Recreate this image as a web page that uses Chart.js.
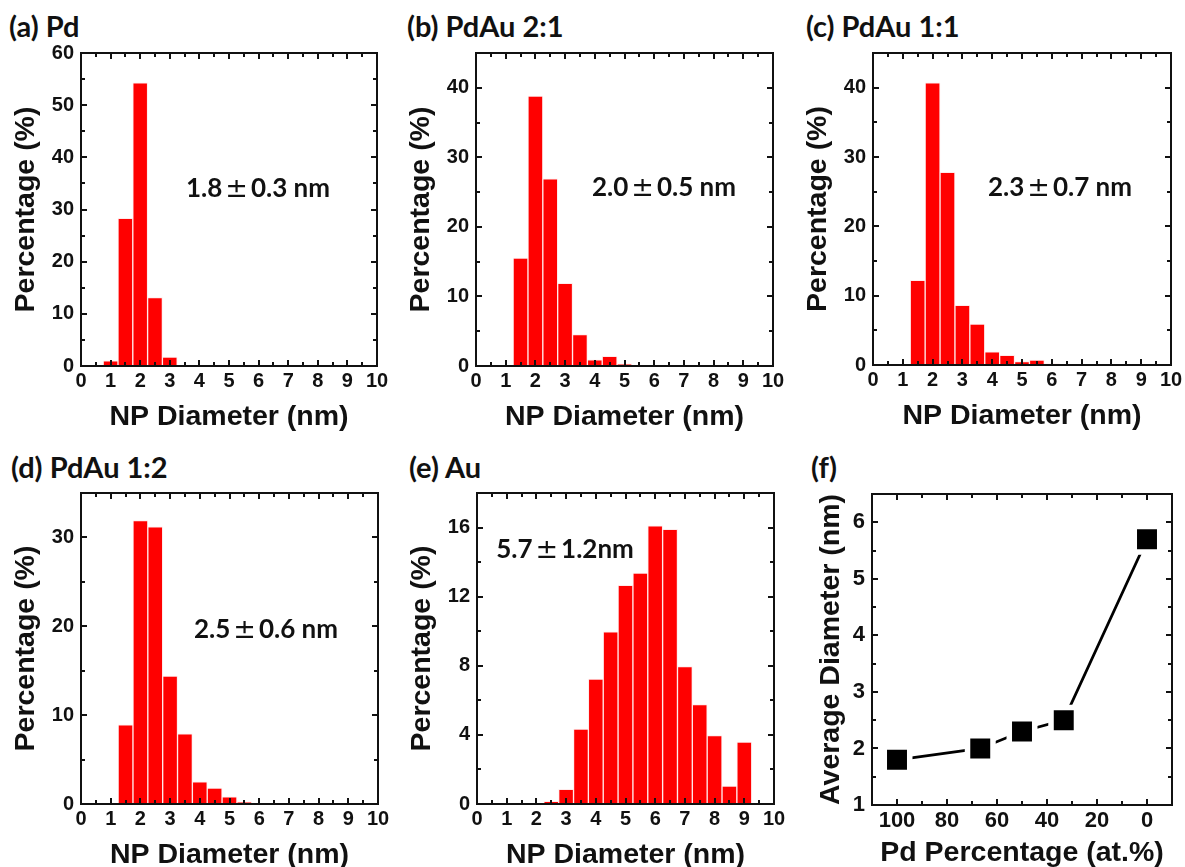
<!DOCTYPE html>
<html>
<head>
<meta charset="utf-8">
<script src="https://cdn.jsdelivr.net/npm/chart.js@4.4.1/dist/chart.umd.min.js"></script>
<style>
  html, body { margin: 0; padding: 0; background: #ffffff; }
  body { width: 1185px; height: 867px; position: relative; overflow: hidden; }
  .cv { position: absolute; }
  .lbl { position: absolute; font-family: Lato, "Open Sans", sans-serif; font-weight: bold; font-size: 29px; color: #111; white-space: nowrap; line-height: 1; transform: translateY(-50%); }
  .ann { position: absolute; font-family: Lato, "Open Sans", sans-serif; font-weight: bold; font-size: 26px; color: #111; white-space: nowrap; line-height: 1; transform: translate(-50%, -50%); }
  .pm { font-family: "DejaVu Sans", sans-serif; font-weight: normal; font-size: 27px; margin: 0 3px; }
</style>
</head>
<body>
<script>
// ---------------- data ----------------
const diamTicks = [0, 1, 2, 3, 4, 5, 6, 7, 8, 9, 10];

const pdDiam = [1.0, 1.5, 2.0, 2.5, 3.0];
const pdPct  = [1.0, 28.3, 54.3, 13.1, 1.7];

const pdAu21Diam = [1.5, 2.0, 2.5, 3.0, 3.5, 4.0, 4.5, 5.0];
const pdAu21Pct  = [15.5, 38.8, 26.9, 11.9, 4.5, 0.9, 1.4, 0.3];

const pdAu11Diam = [1.5, 2.0, 2.5, 3.0, 3.5, 4.0, 4.5, 5.0, 5.5, 6.0];
const pdAu11Pct  = [12.2, 40.7, 27.8, 8.6, 5.9, 1.9, 1.4, 0.5, 0.7, 0.2];

const pdAu12Diam = [1.5, 2.0, 2.5, 3.0, 3.5, 4.0, 4.5, 5.0, 5.5];
const pdAu12Pct  = [8.9, 31.9, 31.2, 14.4, 7.9, 2.5, 1.8, 0.8, 0.25];

const auDiam = [2.5, 3.0, 3.5, 4.0, 4.5, 5.0, 5.5, 6.0, 6.5, 7.0, 7.5, 8.0, 8.5, 9.0];
const auPct  = [0.15, 0.85, 4.33, 7.23, 9.97, 12.66, 13.37, 16.1, 15.9, 7.96, 5.76, 3.96, 1.04, 3.59];

const pdContent   = [100, 66.7, 50, 33.3, 0];
const avgDiameter = [1.8, 2.0, 2.3, 2.5, 5.7];

const yTicksA = [0, 10, 20, 30, 40, 50, 60];
const yTicksB = [0, 10, 20, 30, 40];
const yTicksD = [0, 10, 20, 30];
const yTicksE = [0, 4, 8, 12, 16];
const yTicksF = [1, 2, 3, 4, 5, 6];
const xTicksF = [100, 80, 60, 40, 20, 0];

const panelLabels = ['(a) Pd', '(b) PdAu 2:1', '(c) PdAu 1:1', '(d) PdAu 1:2', '(e) Au', '(f)'];
const annotations = [['1.8', '0.3 nm'], ['2.0', '0.5 nm'], ['2.3', '0.7 nm'], ['2.5', '0.6 nm'], ['5.7', '1.2nm']];

// ---------------- layout ----------------
const AXW = 80, AXH = 82, PADT = 8, PADR = 18;
const TICKFONT = { family: '"Liberation Sans", Arial, sans-serif', weight: 'bold', size: 20 };
const TICKFONT_F = { family: '"Liberation Sans", Arial, sans-serif', weight: 'bold', size: 22 };
const TITLEFONT = { family: '"Liberation Sans", Arial, sans-serif', weight: 'bold', size: 28.5 };

// inward ticks on all four sides + frame
const frameTicks = {
  id: 'frameTicks',
  afterDatasetsDraw(chart, args, opts) {
    const { ctx, chartArea: a } = chart;
    const xs = chart.scales.x, ys = chart.scales.y;
    ctx.save();
    ctx.strokeStyle = '#111';
    ctx.lineWidth = 2;
    const lo = (s) => Math.min(s.min, s.max), hi = (s) => Math.max(s.min, s.max);
    function drawX(step, len) {
      const start = Math.ceil(lo(xs) / step - 1e-9) * step;
      for (let v = start; v <= hi(xs) + 1e-9; v += step) {
        const p = Math.round(xs.getPixelForValue(v));
        ctx.beginPath();
        ctx.moveTo(p, a.bottom); ctx.lineTo(p, a.bottom - len);
        ctx.moveTo(p, a.top); ctx.lineTo(p, a.top + len);
        ctx.stroke();
      }
    }
    function drawY(step, len) {
      const start = Math.ceil(lo(ys) / step - 1e-9) * step;
      for (let v = start; v <= hi(ys) + 1e-9; v += step) {
        const p = Math.round(ys.getPixelForValue(v));
        ctx.beginPath();
        ctx.moveTo(a.left, p); ctx.lineTo(a.left + len, p);
        ctx.moveTo(a.right, p); ctx.lineTo(a.right - len, p);
        ctx.stroke();
      }
    }
    drawX(opts.xMinor, 4); drawX(opts.xMajor, 6);
    drawY(opts.yMinor, 4); drawY(opts.yMajor, 6);
    ctx.lineWidth = 2;
    ctx.strokeRect(a.left, a.top, a.right - a.left, a.bottom - a.top);
    ctx.restore();
  }
};

function makeCanvas(frame) {
  const [L, T, R, B] = frame;
  const c = document.createElement('canvas');
  c.className = 'cv';
  const w = R - L + AXW + PADR, h = B - T + PADT + AXH;
  c.width = w; c.height = h;
  c.style.left = (L - AXW) + 'px';
  c.style.top = (T - PADT) + 'px';
  c.style.width = w + 'px';
  c.style.height = h + 'px';
  document.body.appendChild(c);
  return c;
}

function fixAxis(size, vertical) {
  return function (scale) {
    if (vertical) scale.width = size; else scale.height = size;
    scale.paddingTop = 0; scale.paddingBottom = 0; scale.paddingLeft = 0; scale.paddingRight = 0;
  };
}

function axisCommon(min, max, tickVals, titleText, vertical, reverse, titlePad, tickFont) {
  return {
    type: 'linear', min: min, max: max, reverse: !!reverse, offset: false,
    position: vertical ? 'left' : 'bottom',
    border: { display: false },
    grid: { display: false, drawTicks: false, offset: false },
    afterBuildTicks: (s) => { s.ticks = tickVals.map(v => ({ value: v })); },
    afterFit: fixAxis(vertical ? AXW : AXH, vertical),
    ticks: { autoSkip: false, maxRotation: 0, color: '#111', font: tickFont || TICKFONT, padding: vertical ? 7 : 3 },
    title: { display: true, text: titleText, color: '#111', font: TITLEFONT,
             padding: vertical ? { top: titlePad, bottom: 0 } : { top: 0, bottom: titlePad } }
  };
}

function makeHist(frame, xs, ys, yMax, yTicks, yMajor, yMinor) {
  const c = makeCanvas(frame);
  return new Chart(c, {
    type: 'bar',
    data: {
      datasets: [{
        data: xs.map((x, i) => ({ x: x, y: ys[i] })),
        backgroundColor: '#ff0000',
        borderColor: 'rgba(255,235,235,1)',
        borderWidth: 1,
        borderSkipped: 'start',
        barPercentage: 1.0,
        categoryPercentage: 1.0
      }]
    },
    options: {
      responsive: false, animation: false, devicePixelRatio: 1,
      layout: { autoPadding: false, padding: { top: PADT, right: PADR, left: 0, bottom: 0 } },
      plugins: { legend: { display: false }, tooltip: { enabled: false },
                 frameTicks: { xMajor: 1, xMinor: 0.5, yMajor: yMajor, yMinor: yMinor } },
      scales: {
        x: axisCommon(0, 10, diamTicks, 'NP Diameter (nm)', false, false, 14),
        y: axisCommon(0, yMax, yTicks, 'Percentage (%)', true, false, 8)
      }
    },
    plugins: [frameTicks]
  });
}

// panel frames [left, top, right, bottom] of the plot box
makeHist([81, 53, 377, 366], pdDiam, pdPct, 60, yTicksA, 10, 5);
makeHist([476, 53, 773, 366], pdAu21Diam, pdAu21Pct, 45, yTicksB, 10, 5);
makeHist([873, 53, 1171, 365], pdAu11Diam, pdAu11Pct, 45, yTicksB, 10, 5);
makeHist([81, 493, 378, 804], pdAu12Diam, pdAu12Pct, 35, yTicksD, 10, 5);
makeHist([477, 493, 774, 804], auDiam, auPct, 18, yTicksE, 4, 2);

// panel f
(function () {
  const c = makeCanvas([872, 494, 1172, 805]);
  new Chart(c, {
    type: 'line',
    data: {
      datasets: [{
        data: pdContent.map((x, i) => ({ x: x, y: avgDiameter[i] })),
        borderColor: '#000',
        borderWidth: 2.8,
        tension: 0,
        fill: false,
        clip: false,
        pointStyle: 'rect',
        pointRadius: 18,
        pointBackgroundColor: '#000',
        pointBorderColor: '#fff',
        pointBorderWidth: 5.5
      }]
    },
    options: {
      responsive: false, animation: false, devicePixelRatio: 1,
      layout: { autoPadding: false, padding: { top: PADT, right: PADR, left: 0, bottom: 0 } },
      plugins: { legend: { display: false }, tooltip: { enabled: false },
                 frameTicks: { xMajor: 20, xMinor: 10, yMajor: 1, yMinor: 0.5 } },
      scales: {
        x: axisCommon(-10, 110, xTicksF, 'Pd Percentage (at.%)', false, true, 17, TICKFONT_F),
        y: axisCommon(1, 6.5, yTicksF, 'Average Diameter (nm)', true, false, 22, TICKFONT_F)
      }
    },
    plugins: [frameTicks]
  });
})();

// ---------------- texts ----------------
const labelPos = [[9, 25], [407, 25], [806, 25], [11, 466], [409, 466], [811, 466]];
panelLabels.forEach((t, i) => {
  const d = document.createElement('div');
  d.className = 'lbl';
  d.textContent = t;
  d.style.left = labelPos[i][0] + 'px';
  d.style.top = labelPos[i][1] + 'px';
  document.body.appendChild(d);
});
const annPos = [[258, 187], [664, 186], [1060, 186], [266, 628], [565, 548]];
annotations.forEach((p, i) => {
  const d = document.createElement('div');
  d.className = 'ann';
  d.appendChild(document.createTextNode(p[0]));
  const s = document.createElement('span');
  s.className = 'pm';
  s.textContent = '±';
  d.appendChild(s);
  d.appendChild(document.createTextNode(p[1]));
  d.style.left = annPos[i][0] + 'px';
  d.style.top = annPos[i][1] + 'px';
  document.body.appendChild(d);
});
</script>
</body>
</html>
